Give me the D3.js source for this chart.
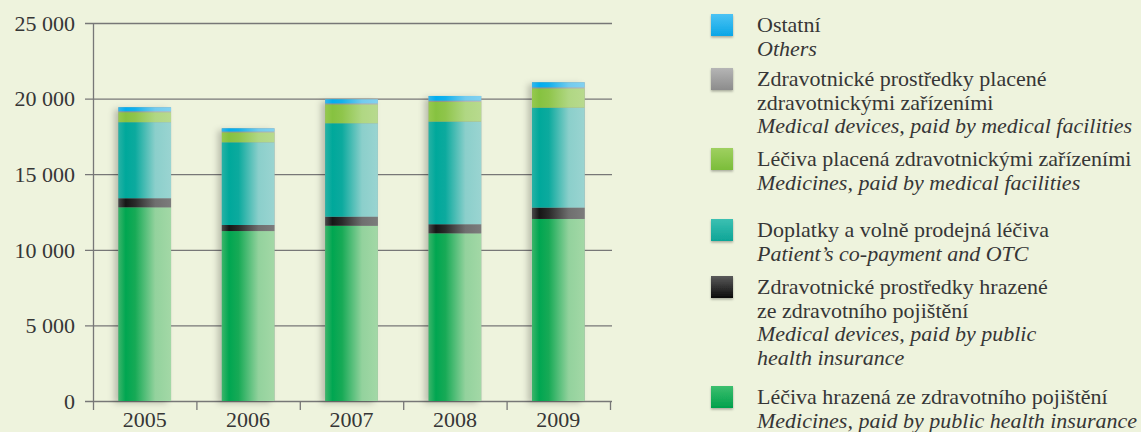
<!DOCTYPE html>
<html>
<head>
<meta charset="utf-8">
<script src="https://cdn.jsdelivr.net/npm/d3@7"></script>
<style>
html,body{margin:0;padding:0;background:#eef3dd;}
svg{display:block;}
</style>
</head>
<body>
<svg id="chart" width="1141" height="432"></svg>
<script>
// ---- data ----
const years = ["2005", "2006", "2007", "2008", "2009"];
const medicinesPublic = [12810, 11240, 11590, 11090, 12040];
const devicesPublic = [600, 400, 600, 600, 750];
const copaymentOTC = [5030, 5470, 6180, 6790, 6610];
const medicinesFacilities = [660, 660, 1250, 1320, 1280];
const devicesFacilities = [60, 50, 60, 60, 60];
const others = [270, 215, 275, 315, 340];
const yTicks = [0, 5000, 10000, 15000, 20000, 25000];

const seriesKeys = ["medicinesPublic", "devicesPublic", "copaymentOTC", "medicinesFacilities", "devicesFacilities", "others"];
const seriesValues = { medicinesPublic, devicesPublic, copaymentOTC, medicinesFacilities, devicesFacilities, others };

const legendCz = [
  ["Ostatní"],
  ["Zdravotnické prostředky placené", "zdravotnickými zařízeními"],
  ["Léčiva placená zdravotnickými zařízeními"],
  ["Doplatky a volně prodejná léčiva"],
  ["Zdravotnické prostředky hrazené", "ze zdravotního pojištění"],
  ["Léčiva hrazená ze zdravotního pojištění"]
];
const legendEn = [
  ["Others"],
  ["Medical devices, paid by medical facilities"],
  ["Medicines, paid by medical facilities"],
  ["Patient’s co-payment and OTC"],
  ["Medical devices, paid by public", "health insurance"],
  ["Medicines, paid by public health insurance"]
];
const legendKeys = ["others", "devicesFacilities", "medicinesFacilities", "copaymentOTC", "devicesPublic", "medicinesPublic"];

(function () {
// ---- styles ----
const gradStops = {
  medicinesPublic: ["#3cb56a", "#00a651", "#17aa56", "#93d29d", "#a3d8a6"],
  devicesPublic: ["#4a4a4a", "#161616", "#2a2a2a", "#6f6f6f", "#7c7c7c"],
  copaymentOTC: ["#27b2a5", "#00a89b", "#0caa9e", "#8bcfcb", "#9ad4d1"],
  medicinesFacilities: ["#96c94f", "#86c240", "#8fc54b", "#b0d783", "#b8da8e"],
  devicesFacilities: ["#9a9a9a", "#8a8a8a", "#909090", "#bdbdbd", "#c6c6c6"],
  others: ["#35b6ea", "#00aeef", "#12b1ec", "#72cbee", "#82d1f0"]
};
const swatchColor = {
  others: ["#4cc3f4", "#0aa6e6"],
  devicesFacilities: ["#b5b5b5", "#8c8c8c"],
  medicinesFacilities: ["#9fd060", "#7bbd3a"],
  copaymentOTC: ["#3cc0b2", "#0ea597"],
  devicesPublic: ["#5a5a5a", "#0a0a0a"],
  medicinesPublic: ["#3cbf6e", "#00a04c"]
};

const svg = d3.select("#chart");
const defs = svg.append("defs");

seriesKeys.forEach(k => {
  const g = defs.append("linearGradient").attr("id", "g-" + k)
    .attr("x1", "0%").attr("x2", "100%").attr("y1", "0%").attr("y2", "0%");
  const offs = [0, 0.14, 0.32, 0.7, 1];
  gradStops[k].forEach((c, i) => g.append("stop").attr("offset", offs[i]).attr("stop-color", c));
  const s = defs.append("linearGradient").attr("id", "s-" + k)
    .attr("x1", "0%").attr("x2", "0%").attr("y1", "0%").attr("y2", "100%");
  s.append("stop").attr("offset", 0).attr("stop-color", swatchColor[k][0]);
  s.append("stop").attr("offset", 1).attr("stop-color", swatchColor[k][1]);
});

const shadow = defs.append("filter").attr("id", "shadow")
  .attr("x", "-30%").attr("y", "-10%").attr("width", "160%").attr("height", "120%");
shadow.append("feDropShadow").attr("dx", -4).attr("dy", 2).attr("stdDeviation", 3)
  .attr("flood-color", "#000").attr("flood-opacity", 0.22);

const small = defs.append("filter").attr("id", "sshadow")
  .attr("x", "-30%").attr("y", "-30%").attr("width", "170%").attr("height", "170%");
small.append("feDropShadow").attr("dx", 0).attr("dy", 1.5).attr("stdDeviation", 1.2)
  .attr("flood-color", "#000").attr("flood-opacity", 0.3);

// ---- scales ----
const pLeft = 93, pRight = 610, pTop = 23, pBottom = 401;
const pad = 0.49;
const x = d3.scaleBand().domain(years).range([pLeft, pRight]).paddingInner(pad).paddingOuter(pad / 2);
const y = d3.scaleLinear().domain([0, 25000]).range([pBottom, pTop]);

const fontFam = "'Liberation Serif', 'DejaVu Serif', serif";
const textCol = "#363636";
const lineCol = "#777";

// gridlines + y ticks
svg.append("g").selectAll("line").data(yTicks).join("line")
  .attr("x1", pLeft - 8).attr("x2", pRight + 2)
  .attr("y1", d => y(d) + 0.5).attr("y2", d => y(d) + 0.5)
  .attr("stroke", lineCol).attr("stroke-width", 1.3);

svg.append("g").selectAll("text").data(yTicks).join("text")
  .attr("x", pLeft - 18).attr("y", d => y(d))
  .attr("dy", "0.35em")
  .attr("text-anchor", "end")
  .attr("font-family", fontFam).attr("font-size", 22).attr("fill", textCol)
  .text(d => d3.format(",")(d).replace(/,/g, " "));

// y axis line
svg.append("line").attr("x1", pLeft + 0.5).attr("x2", pLeft + 0.5)
  .attr("y1", pTop).attr("y2", pBottom + 1)
  .attr("stroke", lineCol).attr("stroke-width", 1.3);

// x boundary ticks
const bounds = years.map(d => x(d) - x.step() * pad / 2).concat([pRight]);
svg.append("g").selectAll("line").data(bounds).join("line")
  .attr("x1", d => d + 0.5).attr("x2", d => d + 0.5)
  .attr("y1", pBottom).attr("y2", pBottom + 9)
  .attr("stroke", lineCol).attr("stroke-width", 1.3);

svg.append("g").selectAll("text").data(years).join("text")
  .attr("x", d => x(d) + x.bandwidth() / 2).attr("y", 427)
  .attr("text-anchor", "middle")
  .attr("font-family", fontFam).attr("font-size", 22).attr("fill", textCol)
  .text(d => d);

// ---- stacked bars ----
const table = years.map((yr, i) => {
  const row = { year: yr };
  seriesKeys.forEach(k => row[k] = seriesValues[k][i]);
  return row;
});
const stack = d3.stack().keys(seriesKeys)(table);

const barsG = svg.append("g");
barsG.append("g").attr("filter", "url(#shadow)").selectAll("rect").data(table).join("rect")
  .attr("x", d => x(d.year)).attr("width", x.bandwidth())
  .attr("y", d => y(d3.sum(seriesKeys, k => d[k])))
  .attr("height", d => y(0) - y(d3.sum(seriesKeys, k => d[k])))
  .attr("fill", "#999");

stack.forEach(layer => {
  barsG.append("g").attr("fill", "url(#g-" + layer.key + ")")
    .selectAll("rect").data(layer).join("rect")
    .attr("x", d => x(d.data.year)).attr("width", x.bandwidth())
    .attr("y", d => y(d[1]))
    .attr("height", d => y(d[0]) - y(d[1]));
});

// ---- legend ----
const lgX = 711, txtX = 757, lineH = 23.5;
const firstBaselines = [32, 86, 166, 237, 294, 404];
const leg = svg.append("g");
legendKeys.forEach((k, i) => {
  const b = firstBaselines[i];
  leg.append("rect").attr("x", lgX).attr("y", b - 18).attr("width", 22).attr("height", 22)
    .attr("fill", "url(#s-" + k + ")").attr("filter", "url(#sshadow)");
  const lines = legendCz[i].map(t => ({ t, it: false })).concat(legendEn[i].map(t => ({ t, it: true })));
  lines.forEach((ln, j) => {
    leg.append("text").attr("x", txtX).attr("y", b + j * lineH)
      .attr("font-family", fontFam).attr("font-size", 22)
      .attr("font-style", ln.it ? "italic" : "normal")
      .attr("fill", textCol).text(ln.t);
  });
});
})();
</script>
</body>
</html>
